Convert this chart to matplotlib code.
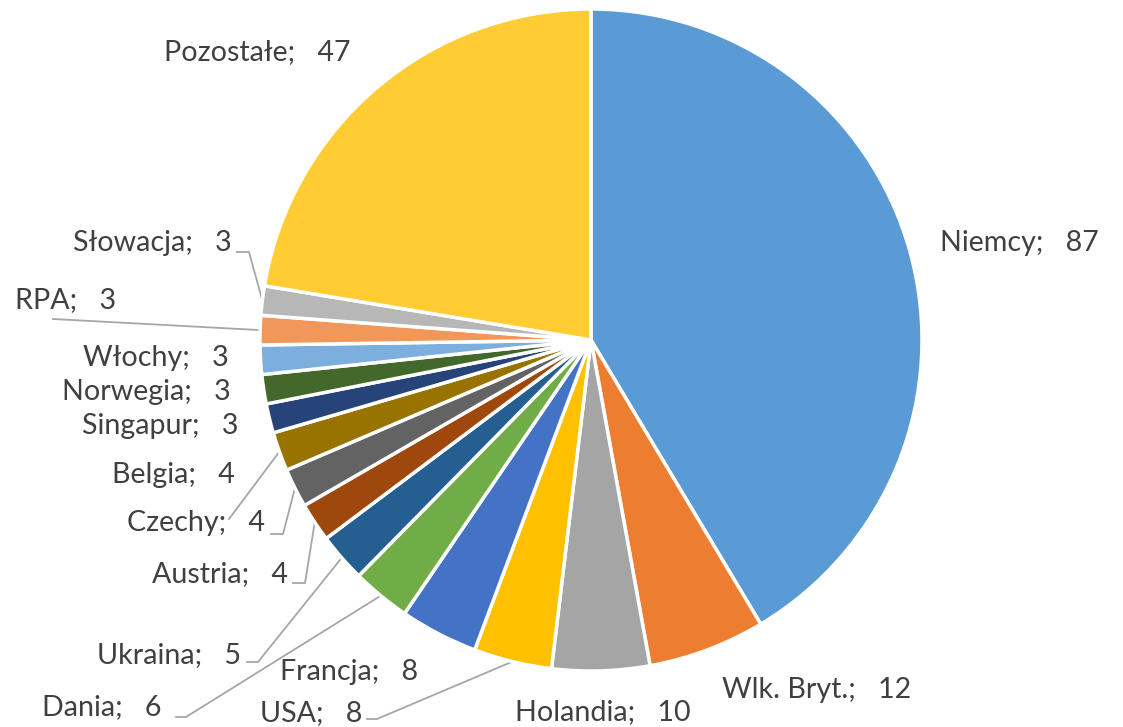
import numpy as np
import matplotlib
matplotlib.use("Agg")
import matplotlib.pyplot as plt

# Dane
countries = ["Niemcy", "Wlk. Bryt.", "Holandia", "USA", "Francja", "Dania", "Ukraina",
             "Austria", "Czechy", "Belgia", "Singapur", "Norwegia", "Włochy", "RPA",
             "Słowacja", "Pozostałe"]
values = [87, 12, 10, 8, 8, 6, 5, 4, 4, 4, 3, 3, 3, 3, 3, 47]
colors = ["#5B9BD5", "#ED7D31", "#A5A5A5", "#FFC000", "#4472C4", "#70AD47", "#255E91",
          "#9E480E", "#636363", "#997300", "#264478", "#43682B", "#7CAFDD", "#F1975A",
          "#B7B7B7", "#FFCD33"]

W, H = 1123, 727

# Pozycje etykiet (piksele obrazu: x, y od góry, wyrównanie)
label_pos = {
    "Niemcy": (940, 243, "left"),
    "Wlk. Bryt.": (722, 690, "left"),
    "Holandia": (515, 712, "left"),
    "USA": (362, 713, "right"),
    "Francja": (418, 672, "right"),
    "Dania": (162, 707, "right"),
    "Ukraina": (241, 655, "right"),
    "Austria": (288, 574, "right"),
    "Czechy": (265, 523, "right"),
    "Belgia": (235, 475, "right"),
    "Singapur": (239, 426, "right"),
    "Norwegia": (231, 392, "right"),
    "Włochy": (229, 358, "right"),
    "RPA": (116, 300, "right"),
    "Słowacja": (232, 243, "right"),
    "Pozostałe": (350, 52, "right"),
}
# linie odniesienia: punkty od strony etykiety, potem do klina
leaders = {
    "USA": [(367, 719), (377, 719)],
    "Dania": [(176, 717), (186, 717)],
    "Ukraina": [(247, 662), (258, 662)],
    "Austria": [(293, 583), (305, 583)],
    "Czechy": [(271, 534), (283, 534)],
    "Belgia": [(229, 519)],
    "RPA": [(53, 319)],
    "Słowacja": [(237, 252), (249, 252)],
}


def P(x, y):
    return x, H - y


fig = plt.figure(figsize=(W / 100, H / 100), dpi=100)
ax = fig.add_axes([0, 0, 1, 1])
ax.set_xlim(0, W)
ax.set_ylim(0, H)
ax.set_aspect("equal")
ax.axis("off")

cx, cy = P(591, 340)
r = 331
wedges, _ = ax.pie(values, colors=colors, startangle=90, counterclock=False,
                   center=(cx, cy), radius=r,
                   wedgeprops=dict(edgecolor="white", linewidth=2.5))
ax.set_xlim(0, W)
ax.set_ylim(0, H)

font = dict(family="Lato", fontsize=20.6, color="#404040")
for name, val, w in zip(countries, values, wedges):
    x, y, ha = label_pos[name]
    ax.text(*P(x, y), f"{name};   {val}", ha=ha, va="center", **font)
    if name in leaders:
        mid = np.deg2rad((w.theta1 + w.theta2) / 2)
        ex, ey = cx + r * np.cos(mid), cy + r * np.sin(mid)
        pts = [P(*p) for p in leaders[name]] + [(ex, ey)]
        xs, ys = zip(*pts)
        ax.plot(xs, ys, color="#A6A6A6", lw=1.3, zorder=0)

fig.savefig("out.png", dpi=100)
